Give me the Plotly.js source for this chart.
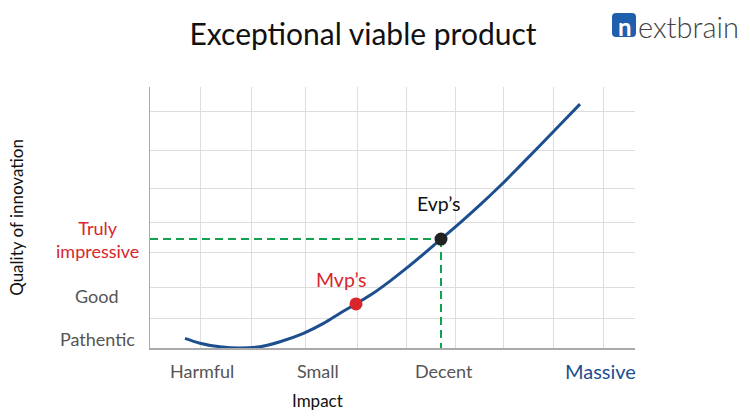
<!DOCTYPE html>
<html><head><meta charset="utf-8">
<script src="https://cdn.plot.ly/plotly-3.0.1.min.js"></script>
<style>html,body{margin:0;padding:0;background:#fff}#chart{width:750px;height:420px}</style>
</head><body><div id="chart"></div><script>
// ---- data ----
const curveX = [0.7, 1.0, 1.4, 1.8, 2.2, 2.6, 3.07, 3.47, 3.8, 4.12, 4.47, 4.8, 5.13, 5.47, 5.82, 6.2, 6.6, 7.0, 7.4, 7.8, 8.2, 8.6];
const curveY = [0.32, 0.16, 0.04, 0.0, 0.04, 0.21, 0.49, 0.82, 1.16, 1.47, 1.83, 2.23, 2.66, 3.13, 3.63, 4.17, 4.77, 5.4, 6.07, 6.75, 7.44, 8.13];
const mvpX = [4.12], mvpY = [1.47];
const evpX = [5.82], evpY = [3.63];
const impactLabels = ["Harmful", "Small", "Decent", "Massive"];
const impactPos = [1.04, 3.35, 5.87, 9.0];
const qualityLabels = ["Pathentic", "Good", "Truly<br>impressive"];
const qualityPos = [0.3, 1.73, 3.62];
const gridX = [1.01, 2.02, 3.1, 4.14, 5.12, 6.1, 7.06, 8.06, 9.06];
const gridY = [1.0, 2.03, 3.17, 4.2, 5.33, 6.57, 7.87];
const pointNames = ["Mvp’s", "Evp’s"];
const xTitle = "Impact", yTitle = "Quality of innovation";
const chartTitle = "Exceptional viable product";

// ---- style ----
const FONT = "Lato, 'Open Sans', sans-serif";
const BLUE = "#1d4f8f", RED = "#d8262c", GREEN = "#12a150", GREY = "#555555";

const traces = [
  {x: curveX, y: curveY, mode: "lines", line: {color: BLUE, width: 3, shape: "spline", smoothing: 1}, hoverinfo: "skip"},
  {x: [0, evpX[0]], y: [evpY[0], evpY[0]], mode: "lines", line: {color: GREEN, width: 2, dash: "8px,5px"}, hoverinfo: "skip"},
  {x: [evpX[0], evpX[0]], y: [evpY[0], 0], mode: "lines", line: {color: GREEN, width: 2, dash: "8px,5px"}, hoverinfo: "skip"},
  {x: mvpX, y: mvpY, mode: "markers", marker: {color: RED, size: 13}, hoverinfo: "skip"},
  {x: evpX, y: evpY, mode: "markers", marker: {color: "#222222", size: 13}, hoverinfo: "skip"}
];

const annotations = [];
impactLabels.forEach((t, i) => {
  const last = i === impactLabels.length - 1;
  annotations.push({
    x: impactPos[i], xref: "x", y: -0.088, yref: "paper", text: t, showarrow: false,
    xanchor: "center", yanchor: "middle",
    font: {family: FONT, size: last ? 20 : 18, color: last ? BLUE : GREY}
  });
});
qualityLabels.forEach((t, i) => annotations.push({
  x: -0.109, xref: "paper", y: qualityPos[i], yref: "y", text: t, showarrow: false,
  xanchor: "center", yanchor: "middle", align: "center",
  font: {family: FONT, size: 18, color: i === qualityLabels.length - 1 ? RED : GREY}
}));
annotations.push({x: impactPos[1], xref: "x", y: -0.203, yref: "paper", text: xTitle, showarrow: false,
  xanchor: "center", yanchor: "middle", font: {family: FONT, size: 17, color: "#111111"}});
annotations.push({x: mvpX[0], y: mvpY[0], xref: "x", yref: "y", text: pointNames[0], showarrow: false,
  xshift: -15, yshift: 24, font: {family: FONT, size: 19.5, color: RED}});
annotations.push({x: evpX[0], y: evpY[0], xref: "x", yref: "y", text: pointNames[1], showarrow: false,
  xshift: -2, yshift: 36, font: {family: FONT, size: 19.5, color: "#111111"}});
// logo
const px = v => (v - 150) / 485, py = v => (348 - v) / 261;
annotations.push({x: px(624.5), y: py(26.5), xref: "paper", yref: "paper", text: "<b>n</b>", showarrow: false,
  xanchor: "center", yanchor: "middle", font: {family: FONT, size: 24, color: "#ffffff"}});
annotations.push({x: px(636), y: py(26), xref: "paper", yref: "paper", text: "extbrain", showarrow: false,
  xanchor: "left", yanchor: "middle", font: {family: "Lato Light, Lato, sans-serif", size: 29, color: "#444444"}});

const x0 = px(612), x1 = px(636), y0 = py(37), y1 = py(13), rx = 4 / 485, ry = 4 / 261;
const logoPath = `M ${x0+rx},${y0} L ${x1-rx},${y0} Q ${x1},${y0} ${x1},${y0+ry} L ${x1},${y1-ry} Q ${x1},${y1} ${x1-rx},${y1} L ${x0+rx},${y1} Q ${x0},${y1} ${x0},${y1-ry} L ${x0},${y0+ry} Q ${x0},${y0} ${x0+rx},${y0} Z`;

const layout = {
  width: 750, height: 420,
  margin: {l: 150, r: 115, t: 87, b: 72},
  paper_bgcolor: "#ffffff", plot_bgcolor: "#ffffff",
  showlegend: false, hovermode: false,
  font: {family: FONT, color: GREY},
  title: {text: chartTitle, x: 0.484, xref: "container", y: 0.917, yref: "container",
    xanchor: "center", yanchor: "middle", font: {family: FONT, size: 30, color: "#111111"}},
  xaxis: {range: [0, 9.7], tickvals: gridX, showticklabels: false, ticks: "", showgrid: true,
    gridcolor: "#dddddd", gridwidth: 1, zeroline: false, showline: true, linecolor: "#aaaaaa", linewidth: 1.5,
    fixedrange: true},
  yaxis: {range: [0, 8.7], tickvals: gridY, showticklabels: false, ticks: "", showgrid: true,
    gridcolor: "#dddddd", gridwidth: 1, zeroline: false, showline: true, linecolor: "#aaaaaa", linewidth: 1.5,
    fixedrange: true,
    title: {text: yTitle, standoff: 120, font: {family: FONT, size: 17, color: "#111111"}}},
  annotations: annotations,
  shapes: [{type: "path", xref: "paper", yref: "paper", path: logoPath, fillcolor: "#1f5fae", line: {width: 0}}]
};

Plotly.newPlot("chart", traces, layout, {staticPlot: true, displayModeBar: false});
</script></body></html>
